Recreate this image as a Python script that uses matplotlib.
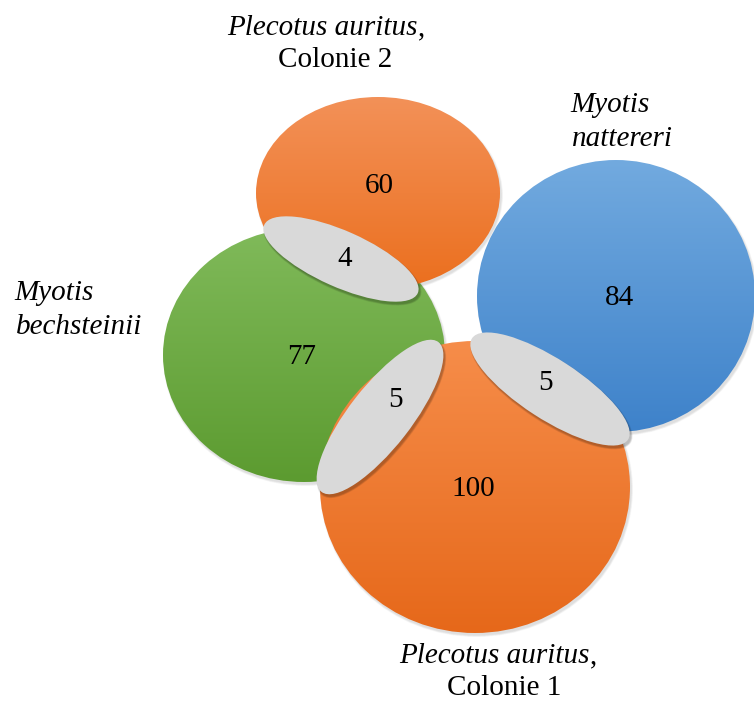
import numpy as np
import matplotlib
matplotlib.use("Agg")
import matplotlib.pyplot as plt
from matplotlib.patches import Ellipse
from matplotlib.colors import LinearSegmentedColormap

# values
set_counts = [60, 77, 84, 100]
overlap_counts = [4, 5, 5]
species = ["Plecotus auritus", "Myotis bechsteinii", "Myotis nattereri", "Plecotus auritus"]
colonies = ["Colonie 2", "", "", "Colonie 1"]

# layout in pixels (x, y from top-left), width, height, gradient colours
circles = [
    dict(c=(378, 193), w=244, h=192, top="#F39158", bot="#EB6F1E", z=2),
    dict(c=(304, 355), w=282, h=254, top="#80BA5A", bot="#5C9B30", z=1),
    dict(c=(616, 296), w=278, h=272, top="#72AADF", bot="#3E82CA", z=3),
    dict(c=(475, 487), w=310, h=292, top="#F68D4A", bot="#E6681A", z=4),
]
count_pos = [(379, 186), (302, 357), (619, 298), (473, 489)]
# angles are clockwise on screen because the y axis runs downward
overlaps = [
    dict(c=(341, 259), w=168, h=56, ang=24),
    dict(c=(380, 417), w=190, h=62, ang=-52),
    dict(c=(550, 389), w=186, h=60, ang=33),
]
overlap_txt = [(345, 259), (395, 400), (546, 383)]

plt.rcParams['font.family'] = ['Liberation Serif', 'DejaVu Serif']
fig = plt.figure(figsize=(7.54, 7.04), dpi=100)
ax = fig.add_axes([0, 0, 1, 1])


def soft_shadow(ax, c, w, h, ang, z, alpha, layers=4):
    for k in range(layers):
        ax.add_patch(Ellipse((c[0] + 1.5, c[1] + 2.5), w + k, h + k, angle=ang,
                             facecolor="#000000", alpha=alpha, edgecolor="none", zorder=z))


def grad_ellipse(ax, c, w, h, top, bot, z):
    e = Ellipse(c, w, h, facecolor="none", edgecolor="none", zorder=z)
    ax.add_patch(e)
    cmap = LinearSegmentedColormap.from_list("g", [top, bot])
    g = np.linspace(0, 1, 256).reshape(-1, 1)
    im = ax.imshow(g, cmap=cmap, aspect="auto", interpolation="bilinear",
                   extent=[c[0] - w / 2, c[0] + w / 2, c[1] + h / 2, c[1] - h / 2], zorder=z)
    im.set_clip_path(e)


for circ in circles:
    soft_shadow(ax, circ["c"], circ["w"], circ["h"], 0, circ["z"] - 0.5, 0.03)
    grad_ellipse(ax, circ["c"], circ["w"], circ["h"], circ["top"], circ["bot"], circ["z"])

fs = 21
for n, p in zip(set_counts, count_pos):
    ax.text(p[0], p[1], str(n), ha="center", va="center", fontsize=fs, zorder=10)

for ov, n, p in zip(overlaps, overlap_counts, overlap_txt):
    soft_shadow(ax, ov["c"], ov["w"], ov["h"], ov["ang"], 8, 0.07)
    ax.add_patch(Ellipse(ov["c"], ov["w"], ov["h"], angle=ov["ang"],
                         facecolor="#D9D9D9", edgecolor="none", zorder=9))
    ax.text(p[0], p[1], str(n), ha="center", va="center", fontsize=fs, zorder=10)

# Plecotus auritus, Colonie 2 (top)
ax.text(418, 28, species[0], ha="right", va="center", style="italic", fontsize=fs)
ax.text(418, 28, ",", ha="left", va="center", fontsize=fs)
ax.text(335, 60, colonies[0], ha="center", va="center", fontsize=fs)
# Myotis bechsteinii
ax.text(14, 293, "Myotis", ha="left", va="center", style="italic", fontsize=fs)
ax.text(16, 327, "bechsteinii", ha="left", va="center", style="italic", fontsize=fs)
# Myotis nattereri
ax.text(570, 105, "Myotis", ha="left", va="center", style="italic", fontsize=fs)
ax.text(572, 139, "nattereri", ha="left", va="center", style="italic", fontsize=fs)
# Plecotus auritus, Colonie 1 (bottom)
ax.text(590, 656, species[3], ha="right", va="center", style="italic", fontsize=fs)
ax.text(590, 656, ",", ha="left", va="center", fontsize=fs)
ax.text(504, 688, colonies[3], ha="center", va="center", fontsize=fs)

ax.set_xlim(0, 754)
ax.set_ylim(704, 0)
ax.axis("off")
fig.savefig("out.png", dpi=100)
